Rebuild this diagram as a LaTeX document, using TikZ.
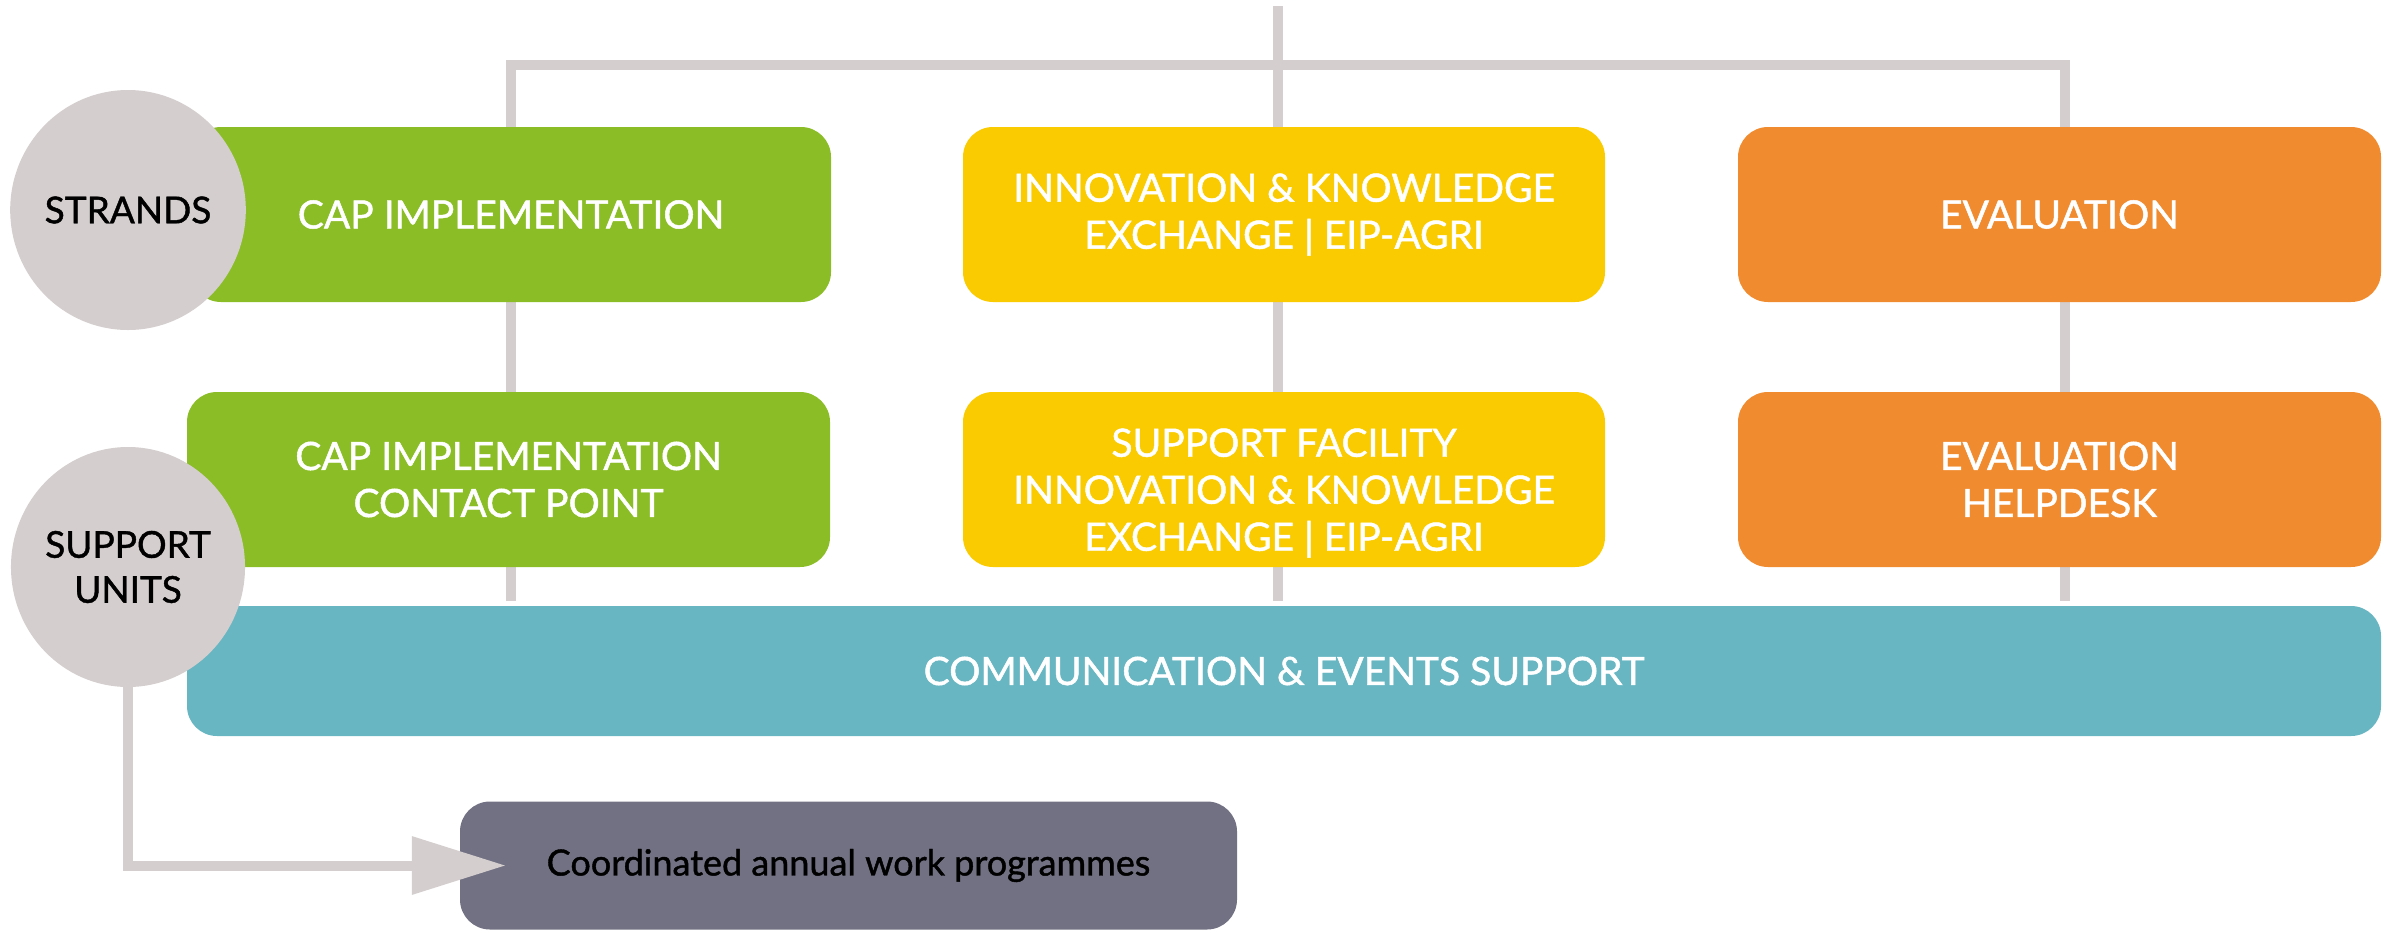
\documentclass[tikz,border=0pt]{standalone}
\usepackage{fontspec}
\setmainfont{Lato}
\newfontfamily\medfont{Lato}[FakeBold=1.2]
\usetikzlibrary{arrows.meta,backgrounds,shapes.geometric}
\definecolor{cgreen}{HTML}{8BBD26}
\definecolor{cyellow}{HTML}{F9CB00}
\definecolor{corange}{HTML}{F18B30}
\definecolor{cteal}{HTML}{69B6C3}
\definecolor{cslate}{HTML}{717183}
\definecolor{cline}{HTML}{D4CECE}
\tikzset{
  box/.style={rectangle, rounded corners=30pt, inner sep=0pt, text=white, align=center,
    font=\medfont\fontsize{39}{47}\selectfont, minimum height=175pt},
  label/.style={ellipse, fill=cline, inner sep=0pt, minimum width=232pt, minimum height=240pt,
    align=center, text=black, font=\medfont\fontsize{37}{45}\selectfont},
  frame/.style={draw=cline, line width=10pt},
}
\begin{document}
\begin{tikzpicture}[x=1pt,y=-1pt]
\useasboundingbox (0,0) rectangle (2392,932);
% boxes
\node[box, fill=cgreen, minimum width=640pt] (cap) at (511,214.5) {CAP IMPLEMENTATION};
\node[box, fill=cyellow, minimum width=642pt] (ike) at (1284,214.5) {INNOVATION \& KNOWLEDGE\\EXCHANGE | EIP-AGRI};
\node[box, fill=corange, minimum width=643pt] (eval) at (2059.5,214.5) {EVALUATION};
\node[box, fill=cgreen, minimum width=643pt] (capcp) at (508.5,479.5) {CAP IMPLEMENTATION\\CONTACT POINT};
\node[box, fill=cyellow, minimum width=642pt] (sf) at (1284,479.5) {};
\node[text=white, align=center, font=\medfont\fontsize{39}{47}\selectfont] (sftext) at (1284,493) {SUPPORT FACILITY\\INNOVATION \& KNOWLEDGE\\EXCHANGE | EIP-AGRI};
\node[box, fill=corange, minimum width=643pt] (evalh) at (2059.5,479.5) {EVALUATION\\HELPDESK};
\node[box, fill=cteal, minimum width=2194pt, minimum height=130pt] (comm) at (1284,671) {COMMUNICATION \& EVENTS SUPPORT};
\node[box, fill=cslate, minimum width=777pt, minimum height=128pt, text=black,
  font=\medfont\fontsize{36}{43}\selectfont] (wp) at (848.5,865.5) {Coordinated annual work programmes};
% labels
\node[label] (strands) at (128,210) {STRANDS};
\node[label] (units) at (128,567) {SUPPORT\\UNITS};
% frame lines
\coordinate (top) at (1278,6);
\coordinate (tl) at (511,64.5);
\coordinate (tr) at (2065,64.5);
\coordinate (bl) at (511,601);
\coordinate (bm) at (1278,601);
\coordinate (br) at (2065,601);
\begin{pgfonlayer}{background}
\draw[frame] (bl) -- (tl) -- (tr) -- (br);
\draw[frame] (top) -- (bm);
\end{pgfonlayer}
% arrow
\draw[draw=cline, line width=10pt, -{Triangle[length=94pt,width=56pt,fill=cline]}]
  (units.south) |- ([xshift=46pt]wp.west);
\end{tikzpicture}
\end{document}
